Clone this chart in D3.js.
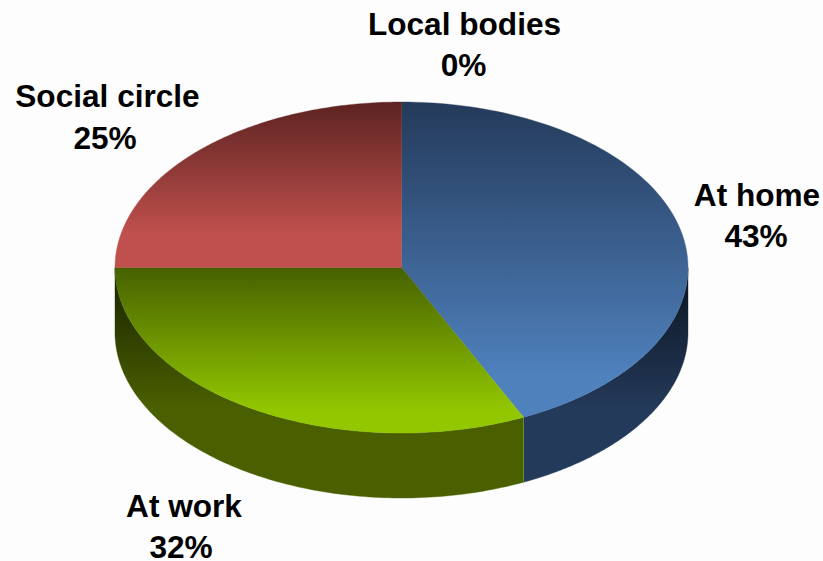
<!DOCTYPE html>
<html><head><meta charset="utf-8">
<script src="https://cdn.jsdelivr.net/npm/d3@7"></script>
<style>html,body{margin:0;padding:0;background:#fdfdfd;overflow:hidden}svg{display:block}
text{font-family:"Liberation Sans",Arial,sans-serif;font-weight:700;font-size:31.6px;fill:#000;text-anchor:middle}</style>
</head><body><svg id="c" width="823" height="561"></svg>
<script>
const categories = ["At home", "At work", "Social circle", "Local bodies"];
const shares = [43, 32, 25, 0];
const topDark = ["#243a5a", "#466000", "#5c2321", "#000"];
const topLight = ["#4f81bd", "#93c800", "#c0504d", "#000"];
const sideDark = ["#0b1520", "#1a2400", "#000", "#000"];
const sideLight = ["#243a5a", "#4a6000", "#000", "#000"];
const labelX = [757, 184, 107.5, 464.5];
const labelY = [205.5, 517, 107, 35];
const percentX = [756, 181, 105, 463.5];
const percentY = [247, 558, 149, 76];

const cx = 401.5, cy = 267.5, rx = 286.5, ry = 165.5, depth = 65;
const svg = d3.select("#c");
const defs = svg.append("defs");
const sx = d3.scaleLinear().domain([-1, 1]).range([cx - rx, cx + rx]);
const sy = d3.scaleLinear().domain([-1, 1]).range([cy - ry, cy + ry]);
const arcs = d3.pie().sort(null).value(d => d).startAngle(0).endAngle(2 * Math.PI)(shares);

const px = t => sx(Math.sin(t)), py = t => sy(-Math.cos(t));
const samples = (a, b) => d3.range(0, 121).map(i => a + (b - a) * i / 120);
const line = d3.line();

function grad(id, y0, y1, c0, c1, stop) {
  const g = defs.append("linearGradient").attr("id", id).attr("gradientUnits", "userSpaceOnUse")
    .attr("x1", 0).attr("x2", 0).attr("y1", y0).attr("y2", y1);
  g.append("stop").attr("offset", 0).attr("stop-color", c0);
  g.append("stop").attr("offset", stop).attr("stop-color", c1);
  g.append("stop").attr("offset", 1).attr("stop-color", c1);
}

// side walls: only the front half (angles between 90 and 270 degrees) is visible
const front = arcs.map(d => ({ i: d.index, a: Math.max(d.startAngle, Math.PI / 2), b: Math.min(d.endAngle, 3 * Math.PI / 2) }))
  .filter(d => d.b > d.a);
front.forEach(d => {
  grad("side" + d.i, cy + 5, cy + ry + 10, sideDark[d.i], sideLight[d.i], 0.8);
  const ts = samples(d.a, d.b);
  const upper = ts.map(t => [px(t), py(t)]);
  const lower = ts.slice().reverse().map(t => [px(t), py(t) + depth]);
  svg.append("path").attr("d", line(upper.concat(lower)) + "Z")
    .attr("fill", `url(#side${d.i})`).attr("stroke", `url(#side${d.i})`).attr("stroke-width", 0.4);
});
// light seam between the two visible walls
const seam = arcs[0].endAngle;
svg.append("line").attr("x1", px(seam)).attr("x2", px(seam)).attr("y1", py(seam)).attr("y2", py(seam) + depth)
  .attr("stroke", "#6f8a1e").attr("stroke-width", 1);

// top face slices, each with its own vertical gradient
arcs.filter(d => d.value > 0).forEach(d => {
  const ts = samples(d.startAngle, d.endAngle);
  const pts = ts.map(t => [px(t), py(t)]);
  const ys = pts.map(p => p[1]).concat(cy);
  const y0 = d3.min(ys), y1 = d3.max(ys);
  grad("top" + d.index, y0, y1, topDark[d.index], topLight[d.index], d.index === 2 ? 0.8 : 0.87);
  svg.append("path").attr("d", line([[cx, cy]].concat(pts)) + "Z")
    .attr("fill", `url(#top${d.index})`).attr("stroke", `url(#top${d.index})`).attr("stroke-width", 0.4);
});

// labels
categories.forEach((c, i) => {
  const t = svg.append("text");
  t.append("tspan").attr("x", labelX[i]).attr("y", labelY[i]).text(c);
  t.append("tspan").attr("x", percentX[i]).attr("y", percentY[i]).text(shares[i] + "%");
});
</script></body></html>
